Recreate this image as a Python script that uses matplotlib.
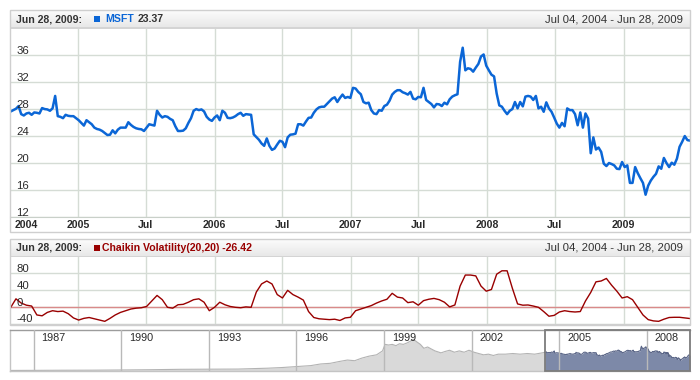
import numpy as np
import pandas as pd
import matplotlib
matplotlib.use('Agg')
import matplotlib.pyplot as plt
from matplotlib.patches import Rectangle
from matplotlib.colors import LinearSegmentedColormap
from matplotlib import transforms
import matplotlib.dates as mdates

plt.rcParams['font.family'] = ['Liberation Sans', 'DejaVu Sans']

# ---------------- data ----------------
msft_start = '2004-07-04'
msft = [
    27.7, 27.9, 28.1, 28.5, 27.3, 27.1, 27.4, 27.5, 27.2, 27.55,
    27.5, 27.4, 28.2, 28.05, 28.0, 27.8, 28.15, 30.0, 27.0, 26.9,
    26.7, 27.2, 27.05, 27.0, 27.0, 26.7, 26.4, 26.0, 25.6, 26.4,
    26.1, 25.8, 25.3, 25.1, 25.0, 24.8, 24.5, 24.2, 24.25, 24.9,
    24.45, 25.0, 25.3, 25.3, 25.3, 26.1, 25.7, 25.4, 25.2, 25.1,
    25.05, 24.8, 25.3, 25.8, 25.7, 25.6, 27.8, 27.2, 26.8, 27.0,
    26.9, 26.6, 26.4, 25.5, 24.8, 24.8, 24.85, 25.2, 26.0, 26.7,
    27.8, 28.05, 27.9, 28.0, 27.7, 26.9, 26.5, 26.3, 26.8, 27.1,
    26.4, 27.8, 27.5, 26.75, 26.7, 26.8, 27.0, 27.3, 27.5, 27.05,
    27.3, 27.25, 27.2, 24.3, 23.9, 23.5, 22.95, 22.6, 23.7, 22.6,
    22.0, 22.2, 22.8, 23.35, 23.2, 22.4, 23.85, 24.25, 24.3, 24.4,
    25.8, 25.8, 25.6, 26.2, 26.75, 26.8, 27.5, 28.0, 28.3, 28.4,
    28.4, 28.8, 29.2, 29.6, 29.8, 29.1, 29.7, 30.2, 29.7, 29.85,
    29.7, 31.2, 31.1, 30.6, 30.25, 29.1, 28.9, 29.0, 27.9, 27.4,
    27.3, 27.9, 27.8, 28.5, 28.7, 29.3, 30.2, 30.6, 30.85, 30.85,
    30.55, 30.4, 30.2, 30.6, 29.6, 29.5, 29.85, 29.8, 31.2, 29.4,
    29.1, 28.8, 28.3, 28.8, 28.75, 28.5, 29.0, 28.75, 29.5, 29.9,
    30.1, 30.25, 35.05, 37.15, 33.8, 34.1, 34.0, 33.6, 34.2, 34.75,
    35.85, 36.15, 34.5, 33.8, 33.15, 32.9, 30.35, 28.6, 28.4, 27.8,
    27.3, 27.8, 28.05, 29.1, 28.15, 29.1, 28.45, 29.9, 30.0, 29.9,
    29.4, 30.0, 28.15, 28.4, 27.65, 29.05, 28.15, 27.65, 26.8, 25.9,
    25.3, 26.0, 25.5, 28.15, 27.9, 27.9, 27.3, 25.65, 27.55, 25.3,
    27.4, 26.65, 21.5, 23.85, 22.05, 22.35, 21.7, 19.95, 19.6, 20.05,
    19.9, 19.7, 19.2, 19.15, 20.2, 19.45, 19.7, 17.1, 17.1, 19.45,
    18.55, 17.8, 17.1, 15.35, 16.7, 17.45, 18.0, 18.45, 19.55, 19.2,
    20.8, 20.05, 19.45, 20.1, 19.8, 20.7, 22.45, 23.2, 24.05, 23.45,
    23.37,
]

chaikin_start = '2004-07-04'
chaikin = [
    0, 20, 10, 5, 3, -18, -20, -12, -8, -10,
    -9, -15, -25, -30, -26, -24, -27, -30, -33, -26,
    -18, -12, -8, -4, -2, -1, 2, 15, 28, 18,
    0, -2, 6, 7, 12, 18, 20, 12, -8, 0,
    12, 6, 2, 0, -1, 1, 0, 36, 55, 62,
    55, 30, 22, 40, 30, 24, 17, -10, -24, -27,
    -28, -29, -28, -31, -25, -23.5, -8, -4, 0, 4,
    10, 15, 19, 33, 24, 22, 11, 13, 5, 15.7,
    19, 21, 18, 12, 1, 5.5, 50, 76, 76, 74,
    50, 38, 42, 78, 86, 86, 45, 8, 5, 5.5,
    3, 0, -10, -21, -19, -11, -8, -10, -11, -10,
    15, 35, 60, 62, 68, 52, 38, 22, 25, 18,
    0, -18, -29, -32, -33, -28, -24, -23.5, -23.5, -25,
    -26.42,
]

hist_dates = ['1986-03-13', '1987-01-01', '1988-01-01', '1989-01-01', '1990-01-01',
              '1991-01-01', '1992-01-01', '1993-01-01', '1994-01-01', '1995-01-01',
              '1995-07-01', '1996-01-01', '1996-07-01', '1996-11-01', '1997-03-01',
              '1997-07-01', '1997-10-01', '1998-01-01', '1998-04-01', '1998-07-01',
              '1998-10-01', '1998-12-15', '1999-01-15', '1999-03-01', '1999-04-15',
              '1999-06-01', '1999-07-15', '1999-09-01', '1999-10-15', '1999-12-01',
              '2000-01-01', '2000-02-15', '2000-04-01', '2000-05-15', '2000-07-01',
              '2000-08-15', '2000-10-01', '2000-12-15', '2001-02-01', '2001-04-01',
              '2001-06-01', '2001-08-01', '2001-10-01', '2001-12-01', '2002-02-01',
              '2002-04-01', '2002-06-01', '2002-08-01', '2002-10-01', '2002-12-01',
              '2003-03-01', '2003-06-01', '2003-09-01', '2003-12-01', '2004-03-01',
              '2004-07-04']
hist_values = [0.1, 0.2, 0.4, 0.5, 0.8, 1.2, 1.8, 2.0, 2.2, 3.5,
               4.5, 6, 7.5, 10, 11, 14, 16, 15, 19, 22,
               24, 30, 40, 39, 40, 38, 41, 40, 42, 45,
               48, 44, 40, 34, 36, 33, 30, 27, 29, 31,
               28, 30, 28, 31, 28, 26, 24, 25, 23, 25,
               25, 26, 25, 26, 25, 27.7]

price_ticks = [12, 16, 20, 24, 28, 32, 36]
vol_ticks = [-40, 0, 40, 80]
date_ticks = ['2005-01-01', '2005-07-01', '2006-01-01', '2006-07-01', '2007-01-01',
              '2007-07-01', '2008-01-01', '2008-07-01', '2009-01-01']
date_labels = ['2005', 'Jul', '2006', 'Jul', '2007', 'Jul', '2008', 'Jul', '2009']
first_label = '2004'
scroller_years = [1987, 1990, 1993, 1996, 1999, 2002, 2005, 2008]
header_date = 'Jun 28, 2009:'
range_text = 'Jul 04, 2004 - Jun 28, 2009'
series_name = 'MSFT'
indicator_name = 'Chaikin Volatility(20,20)'

# ---------------- figure ----------------
W, H = 700, 380
fig = plt.figure(figsize=(W / 100, H / 100), dpi=100)

BLUE = '#0b66d6'
RED = '#990000'
GRID = '#d5dcd5'
TXT = '#2a2a2a'


def rect(x0, y0, x1, y1):
    return [x0 / W, 1 - y1 / H, (x1 - x0) / W, (y1 - y0) / H]


def fbox(x0, y0, x1, y1, **kw):
    fig.add_artist(Rectangle((x0 / W, 1 - y1 / H), (x1 - x0) / W, (y1 - y0) / H,
                             transform=fig.transFigure, **kw))


def fy(y):
    return 1 - y / H


grad = LinearSegmentedColormap.from_list('hdr', ['#fcfcfc', '#e7e7e7'])


def header(y0, y1):
    axh = fig.add_axes(rect(10, y0, 690, y1))
    axh.imshow(np.linspace(0, 1, 32).reshape(-1, 1), cmap=grad, aspect='auto',
               extent=[0, 1, 0, 1])
    axh.set_axis_off()
    fbox(10, y1 - 0.5, 690, y1 + 0.5, fc='#d4d4d4', ec='none')


msft_dates = pd.date_range(msft_start, periods=len(msft), freq='7D')
chaikin_dates = pd.date_range(chaikin_start, periods=len(chaikin), freq='14D')
xmin, xmax = pd.Timestamp('2004-07-02'), pd.Timestamp('2009-06-28')

# ---------- panel 1 ----------
header(10, 28)
fbox(10, 10, 690, 232, fill=False, ec='#cfcfcf', lw=1)

ax1 = fig.add_axes(rect(10, 28.5, 690, 217.3))
ax1.plot(msft_dates, msft, color=BLUE, lw=1.8, solid_joinstyle='round', zorder=3)
ax1.set_xlim(xmin, xmax)
ax1.set_ylim(12, 40)
ax1.set_yticks(price_ticks)
ax1.set_xticks(pd.to_datetime(date_ticks))
ax1.grid(True, color=GRID, lw=1.0)
ax1.tick_params(length=0, labelbottom=False, labelleft=False)
for s in ['top', 'left', 'right']:
    ax1.spines[s].set_visible(False)
ax1.spines['bottom'].set_color('#c9d0c9')

tr1 = transforms.offset_copy(transforms.blended_transform_factory(fig.transFigure, ax1.transData),
                             fig=fig, y=1.8, units='dots')
for v in price_ticks:
    ax1.text(16.5 / W, v, str(v), transform=tr1, ha='left', va='baseline',
             fontsize=8.2, color=TXT, zorder=4)

trx = transforms.blended_transform_factory(ax1.transData, fig.transFigure)
for d, lab in zip(pd.to_datetime(date_ticks), date_labels):
    ax1.text(d, fy(225.5), lab, transform=trx, ha='center', va='center',
             fontsize=7.6, fontweight='bold', color=TXT, clip_on=False)
fig.text(14.5 / W, fy(225.5), first_label, ha='left', va='center', fontsize=7.6,
         fontweight='bold', color=TXT)

hy = fy(19.3)
fig.text(16.5 / W, hy, header_date, ha='left', va='center', fontsize=7.6,
         fontweight='bold', color='#333333')
fbox(94.3, 16.3, 100.3, 22.3, fc=BLUE, ec='none')
t_name = fig.text(105.5 / W, hy, series_name, ha='left', va='center', fontsize=7.6,
                  fontweight='bold', color=BLUE)
fig.canvas.draw()
bb = t_name.get_window_extent(renderer=fig.canvas.get_renderer())
fig.text((bb.x1 + 3.5) / W, hy, f'{msft[-1]:.2f}', ha='left', va='center', fontsize=7.6,
         fontweight='bold', color='#333333')
fig.text(683 / W, hy, range_text, ha='right', va='center', fontsize=8.2, color='#333333')

# ---------- panel 2 ----------
header(238.5, 256.5)
fbox(10, 238.5, 690, 325, fill=False, ec='#cfcfcf', lw=1)

ax2 = fig.add_axes(rect(10, 257, 690, 324.3))
ax2.plot(chaikin_dates, chaikin, color=RED, lw=1.0, zorder=3)
ax2.axhline(0, color='#d98a8a', lw=1.0, zorder=2)
ax2.set_xlim(xmin, xmax)
ax2.set_ylim(-40, 118.5)
ax2.set_yticks(vol_ticks)
ax2.set_xticks(pd.to_datetime(date_ticks))
ax2.grid(True, color=GRID, lw=1.0)
ax2.tick_params(length=0, labelbottom=False, labelleft=False)
for s in ['top', 'left', 'right']:
    ax2.spines[s].set_visible(False)
ax2.spines['bottom'].set_color('#d0d0d0')

tr2 = transforms.offset_copy(transforms.blended_transform_factory(fig.transFigure, ax2.transData),
                             fig=fig, y=1.8, units='dots')
for v in vol_ticks:
    ax2.text(16.5 / W, v, str(v), transform=tr2, ha='left', va='baseline',
             fontsize=8.2, color=TXT, zorder=4)

hy2 = fy(248.0)
fig.text(16.5 / W, hy2, header_date, ha='left', va='center', fontsize=7.6,
         fontweight='bold', color='#333333')
fbox(93.5, 245, 99.5, 251, fc=RED, ec='none')
fig.text(102 / W, hy2, f'{indicator_name} {chaikin[-1]:.2f}', ha='left', va='center',
         fontsize=7.6, fontweight='bold', color=RED)
fig.text(683 / W, hy2, range_text, ha='right', va='center', fontsize=8.2, color='#333333')

# ---------- scroller ----------
ax3 = fig.add_axes(rect(10, 330, 690, 370.5))
hd = pd.to_datetime(hist_dates)
ax3.fill_between(hd, hist_values, 0, color='#d9d9d9', lw=0, zorder=1)
ax3.plot(hd, hist_values, color='#b3b3b3', lw=0.8, zorder=2)
ax3.fill_between(msft_dates, msft, 0, color='#7d89a8', lw=0, zorder=1)
ax3.plot(msft_dates, msft, color='#5b6687', lw=0.8, zorder=2)
smin, smax = pd.Timestamp('1986-03-13'), pd.Timestamp('2009-06-26')
ax3.set_xlim(smin, smax)
ax3.set_ylim(0, 62)
yr_dates = pd.to_datetime([f'{y}-01-01' for y in scroller_years])
ax3.set_xticks(yr_dates)
ax3.set_yticks([])
ax3.grid(True, axis='x', color='#b9b9b9', lw=1.0, zorder=3)
ax3.set_axisbelow(False)
ax3.tick_params(length=0, labelbottom=False)
for s in ax3.spines.values():
    s.set_color('#c4c4c4')
    s.set_linewidth(1.0)
ax3.spines['top'].set_color('#9c9c9c')
ax3.spines['right'].set_visible(False)

trs = transforms.offset_copy(transforms.blended_transform_factory(ax3.transData, fig.transFigure),
                             fig=fig, x=8, units='dots')
for d, y in zip(yr_dates, scroller_years):
    ax3.text(d, fy(337.7), str(y), transform=trs, ha='left', va='center',
             fontsize=7.8, color=TXT, zorder=5)

sel0 = mdates.date2num(msft_dates[0])
sel1 = mdates.date2num(smax)
ax3.add_patch(Rectangle((sel0, 0), sel1 - sel0, 1,
                        transform=transforms.blended_transform_factory(ax3.transData, ax3.transAxes),
                        fill=False, ec='#7c7c7c', lw=1.3, zorder=6, clip_on=False))

fig.savefig('out.png', dpi=100)
